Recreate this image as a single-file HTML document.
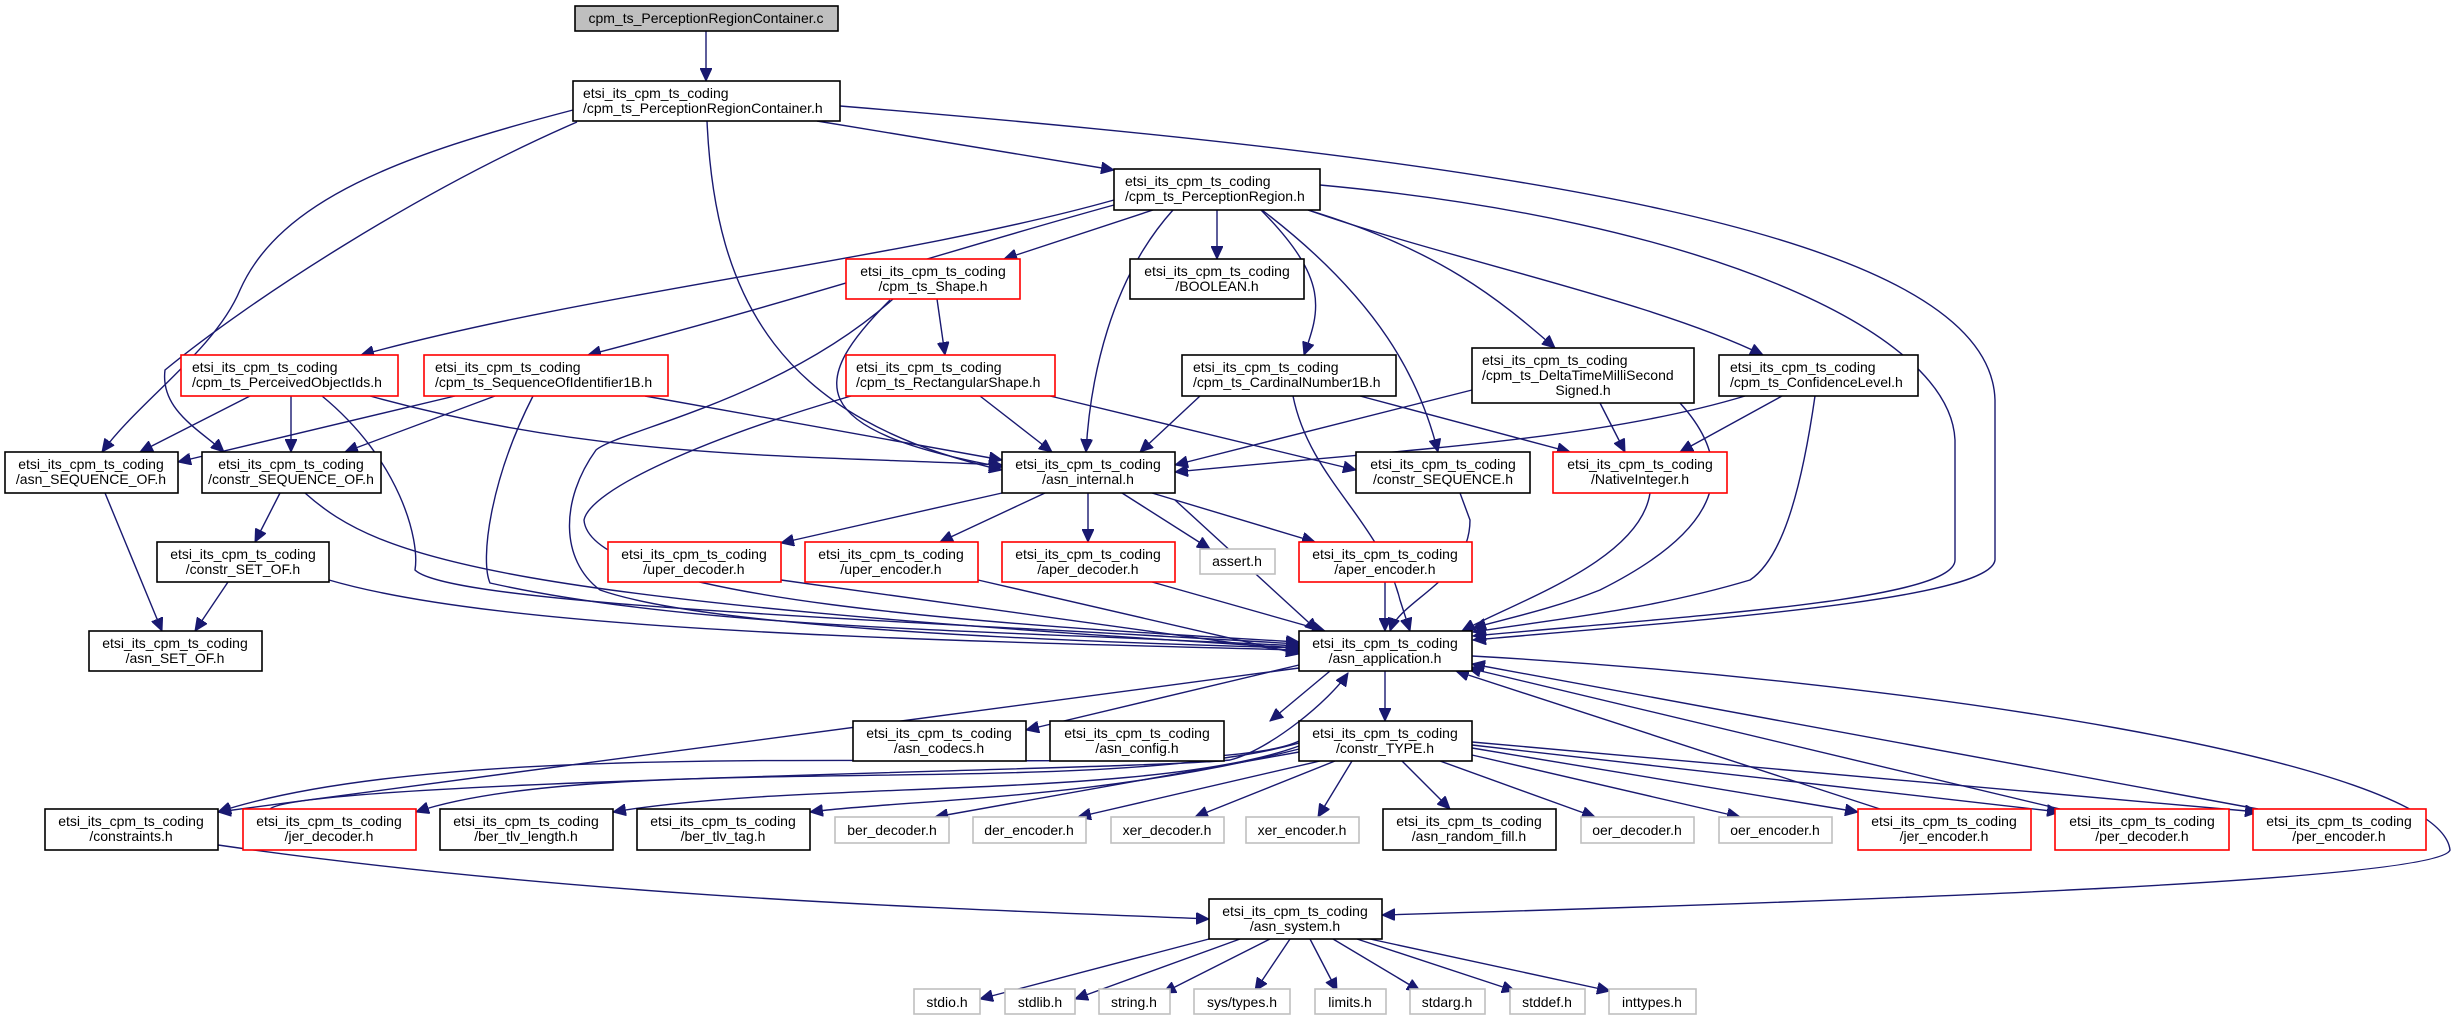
<!DOCTYPE html>
<html><head><meta charset="utf-8"><style>
html,body{margin:0;padding:0;background:#fff;}
svg{display:block;}
text{font-family:"Liberation Sans",sans-serif;font-size:14px;fill:#000;}
.n{fill:#fff;stroke:#000;stroke-width:1.6;}
.r{fill:#fff;stroke:#ff0000;stroke-width:1.6;}
.g{fill:#fff;stroke:#bfbfbf;stroke-width:1.6;}
.e{fill:none;stroke:#191970;stroke-width:1.4;}
.c{text-anchor:middle;}
</style></head><body>
<svg width="2457" height="1020" viewBox="0 0 2457 1020" xmlns="http://www.w3.org/2000/svg">
<defs><marker id="a" markerUnits="userSpaceOnUse" markerWidth="14" markerHeight="12" refX="13" refY="6" orient="auto"><path d="M0,0 L13,6 L0,12 z" fill="#191970" stroke="#191970"/></marker></defs>
<g class="e" marker-end="url(#a)">
<path d="M706,31 L706,81"/>
<!-- PRC.h -->
<path d="M573,110 C400,155 280,200 240,290 C215,350 140,400 102,452"/>
<path d="M577,122 C420,190 250,300 165,370 C160,410 200,430 224,452"/>
<path d="M707,121 C715,300 780,420 1002,470"/>
<path d="M817,121 L1114,170"/>
<path d="M840,106 C1500,160 1990,230 1995,400 L1995,560 C1990,600 1700,620 1473,640"/>
<!-- PerceptionRegion.h -->
<path d="M1320,185 C1700,220 1950,330 1955,440 L1955,560 C1955,600 1700,615 1473,636"/>
<path d="M1114,200 C900,260 600,290 361,355"/>
<path d="M1114,205 C950,250 800,300 588,355"/>
<path d="M1153,210 L1004,259"/>
<path d="M1217,210 L1217,259"/>
<path d="M1173,210 C1110,280 1090,380 1086,452"/>
<path d="M1261,210 C1330,280 1320,310 1304,355"/>
<path d="M1262,210 C1380,300 1420,380 1438,452"/>
<path d="M1308,210 C1440,250 1500,300 1555,348"/>
<path d="M1308,210 C1450,260 1650,300 1763,355"/>
<!-- Shape.h -->
<path d="M937,299 L945,355"/>
<path d="M890,300 C810,380 800,430 1002,467"/>
<path d="M893,299 C780,400 620,430 596,450 C560,500 560,560 600,590 C700,625 1000,640 1299,648"/>
<!-- RectangularShape -->
<path d="M980,396 L1052,452"/>
<path d="M1050,396 L1356,470"/>
<path d="M851,396 C700,440 590,490 584,520 C590,600 1000,625 1299,642"/>
<!-- PerceivedObjectIds -->
<path d="M250,396 L140,452"/>
<path d="M291,396 L291,452"/>
<path d="M370,396 C600,460 800,455 1002,465"/>
<path d="M322,396 C400,460 420,540 415,570 C450,605 900,620 1299,644"/>
<!-- SequenceOfIdentifier1B -->
<path d="M455,396 L178,462"/>
<path d="M495,396 L345,452"/>
<path d="M645,396 L1002,460"/>
<path d="M533,396 C490,480 480,560 490,583 C700,630 1000,630 1299,646"/>
<!-- CardinalNumber1B -->
<path d="M1200,396 L1140,452"/>
<path d="M1360,396 L1570,452"/>
<path d="M1293,396 C1310,480 1380,520 1400,600 L1410,631"/>
<!-- DeltaTime -->
<path d="M1472,390 L1175,465"/>
<path d="M1600,403 L1625,452"/>
<path d="M1680,403 C1750,480 1700,540 1600,590 C1550,610 1500,620 1473,628"/>
<!-- ConfidenceLevel -->
<path d="M1745,396 C1600,440 1400,450 1175,472"/>
<path d="M1782,396 L1680,452"/>
<path d="M1815,396 C1800,500 1780,560 1750,580 C1650,610 1550,620 1473,632"/>
<!-- SEQUENCE_OF -->
<path d="M105,493 L162,631"/>
<path d="M280,493 L255,542"/>
<path d="M305,493 C380,560 500,600 1299,648"/>
<path d="M228,582 L195,631"/>
<path d="M329,580 C500,630 900,640 1299,650"/>
<!-- asn_internal -->
<path d="M1002,493 L781,543"/>
<path d="M1045,493 L940,542"/>
<path d="M1088,493 L1088,542"/>
<path d="M1122,493 L1210,549"/>
<path d="M1152,493 L1315,542"/>
<path d="M1175,500 L1318,631"/>
<path d="M1460,493 L1470,520 C1470,580 1400,600 1390,631"/>
<path d="M1650,493 C1640,560 1520,600 1462,631"/>
<path d="M781,580 L1299,652"/>
<path d="M978,580 L1299,654"/>
<path d="M1152,582 L1325,631"/>
<path d="M1385,582 L1385,631"/>
<!-- asn_application -->
<path d="M1299,665 L1026,730"/>
<path d="M1330,671 L1270,721"/>
<path d="M1385,671 L1385,721"/>
<path d="M1299,668 L218,812"/>
<path d="M1472,656 C1900,680 2440,760 2450,850 C2440,880 1900,900 1382,915"/>
<!-- constr_TYPE -->
<path d="M1299,741 C1200,790 500,720 218,812"/>
<path d="M1299,743 C1100,800 600,750 416,812"/>
<path d="M1299,746 C1150,800 800,780 613,812"/>
<path d="M1299,749 C1100,800 900,800 810,812"/>
<path d="M1299,752 L935,817"/>
<path d="M1320,761 L1078,817"/>
<path d="M1335,761 L1195,817"/>
<path d="M1352,761 L1318,817"/>
<path d="M1402,761 L1450,809"/>
<path d="M1440,761 L1595,817"/>
<path d="M1472,755 L1740,817"/>
<path d="M1472,748 L1858,812"/>
<path d="M1472,745 L2060,812"/>
<path d="M1472,742 L2258,812"/>
<path d="M270,809 C300,780 1150,770 1230,760 C1270,750 1330,700 1348,673"/>
<path d="M1880,809 L1456,671"/>
<path d="M2060,809 L1468,668"/>
<path d="M2258,809 L1472,664"/>
<!-- asn_system -->
<path d="M218,845 C600,900 1000,910 1209,919"/>
<path d="M1209,939 L980,999"/>
<path d="M1240,939 L1075,999"/>
<path d="M1270,939 L1163,993"/>
<path d="M1290,939 L1255,991"/>
<path d="M1310,939 L1337,991"/>
<path d="M1333,939 L1420,991"/>
<path d="M1357,939 L1515,991"/>
<path d="M1370,939 L1610,991"/>
</g>
<!-- nodes -->
<rect x="575" y="6" width="263" height="25" fill="#bfbfbf" stroke="#000" stroke-width="1.6"/><text x="706" y="23" class="c">cpm_ts_PerceptionRegionContainer.c</text>
<rect class="n" x="573" y="81" width="267" height="40"/><text x="583" y="98">etsi_its_cpm_ts_coding</text><text x="583" y="113">/cpm_ts_PerceptionRegionContainer.h</text>
<rect class="n" x="1114" y="169" width="206" height="41"/><text x="1125" y="186">etsi_its_cpm_ts_coding</text><text x="1125" y="201">/cpm_ts_PerceptionRegion.h</text>
<rect class="r" x="846" y="259" width="174" height="40"/><text x="933" y="276" class="c">etsi_its_cpm_ts_coding</text><text x="933" y="291" class="c">/cpm_ts_Shape.h</text>
<rect class="n" x="1130" y="259" width="174" height="40"/><text x="1217" y="276" class="c">etsi_its_cpm_ts_coding</text><text x="1217" y="291" class="c">/BOOLEAN.h</text>
<rect class="r" x="181" y="355" width="217" height="41"/><text x="192" y="372">etsi_its_cpm_ts_coding</text><text x="192" y="387">/cpm_ts_PerceivedObjectIds.h</text>
<rect class="r" x="424" y="355" width="244" height="41"/><text x="435" y="372">etsi_its_cpm_ts_coding</text><text x="435" y="387">/cpm_ts_SequenceOfIdentifier1B.h</text>
<rect class="r" x="846" y="355" width="209" height="41"/><text x="856" y="372">etsi_its_cpm_ts_coding</text><text x="856" y="387">/cpm_ts_RectangularShape.h</text>
<rect class="n" x="1182" y="355" width="214" height="41"/><text x="1193" y="372">etsi_its_cpm_ts_coding</text><text x="1193" y="387">/cpm_ts_CardinalNumber1B.h</text>
<rect class="n" x="1472" y="348" width="222" height="55"/><text x="1482" y="365">etsi_its_cpm_ts_coding</text><text x="1482" y="380">/cpm_ts_DeltaTimeMilliSecond</text><text x="1583" y="395" class="c">Signed.h</text>
<rect class="n" x="1719" y="355" width="199" height="41"/><text x="1730" y="372">etsi_its_cpm_ts_coding</text><text x="1730" y="387">/cpm_ts_ConfidenceLevel.h</text>
<rect class="n" x="5" y="452" width="173" height="41"/><text x="91" y="469" class="c">etsi_its_cpm_ts_coding</text><text x="91" y="484" class="c">/asn_SEQUENCE_OF.h</text>
<rect class="n" x="202" y="452" width="179" height="41"/><text x="291" y="469" class="c">etsi_its_cpm_ts_coding</text><text x="291" y="484" class="c">/constr_SEQUENCE_OF.h</text>
<rect class="n" x="1002" y="452" width="173" height="41"/><text x="1088" y="469" class="c">etsi_its_cpm_ts_coding</text><text x="1088" y="484" class="c">/asn_internal.h</text>
<rect class="n" x="1356" y="452" width="174" height="41"/><text x="1443" y="469" class="c">etsi_its_cpm_ts_coding</text><text x="1443" y="484" class="c">/constr_SEQUENCE.h</text>
<rect class="r" x="1553" y="452" width="174" height="41"/><text x="1640" y="469" class="c">etsi_its_cpm_ts_coding</text><text x="1640" y="484" class="c">/NativeInteger.h</text>
<rect class="n" x="157" y="542" width="172" height="40"/><text x="243" y="559" class="c">etsi_its_cpm_ts_coding</text><text x="243" y="574" class="c">/constr_SET_OF.h</text>
<rect class="n" x="89" y="631" width="173" height="40"/><text x="175" y="648" class="c">etsi_its_cpm_ts_coding</text><text x="175" y="663" class="c">/asn_SET_OF.h</text>
<rect class="r" x="608" y="542" width="173" height="40"/><text x="694" y="559" class="c">etsi_its_cpm_ts_coding</text><text x="694" y="574" class="c">/uper_decoder.h</text>
<rect class="r" x="805" y="542" width="173" height="40"/><text x="891" y="559" class="c">etsi_its_cpm_ts_coding</text><text x="891" y="574" class="c">/uper_encoder.h</text>
<rect class="r" x="1002" y="542" width="173" height="40"/><text x="1088" y="559" class="c">etsi_its_cpm_ts_coding</text><text x="1088" y="574" class="c">/aper_decoder.h</text>
<rect class="g" x="1200" y="549" width="75" height="25"/><text x="1237" y="566" class="c">assert.h</text>
<rect class="r" x="1299" y="542" width="173" height="40"/><text x="1385" y="559" class="c">etsi_its_cpm_ts_coding</text><text x="1385" y="574" class="c">/aper_encoder.h</text>
<rect class="n" x="1299" y="631" width="173" height="40"/><text x="1385" y="648" class="c">etsi_its_cpm_ts_coding</text><text x="1385" y="663" class="c">/asn_application.h</text>
<rect class="n" x="853" y="721" width="173" height="40"/><text x="939" y="738" class="c">etsi_its_cpm_ts_coding</text><text x="939" y="753" class="c">/asn_codecs.h</text>
<rect class="n" x="1050" y="721" width="174" height="40"/><text x="1137" y="738" class="c">etsi_its_cpm_ts_coding</text><text x="1137" y="753" class="c">/asn_config.h</text>
<rect class="n" x="1299" y="721" width="173" height="40"/><text x="1385" y="738" class="c">etsi_its_cpm_ts_coding</text><text x="1385" y="753" class="c">/constr_TYPE.h</text>
<rect class="n" x="45" y="809" width="173" height="41"/><text x="131" y="826" class="c">etsi_its_cpm_ts_coding</text><text x="131" y="841" class="c">/constraints.h</text>
<rect class="r" x="243" y="809" width="173" height="41"/><text x="329" y="826" class="c">etsi_its_cpm_ts_coding</text><text x="329" y="841" class="c">/jer_decoder.h</text>
<rect class="n" x="440" y="809" width="173" height="41"/><text x="526" y="826" class="c">etsi_its_cpm_ts_coding</text><text x="526" y="841" class="c">/ber_tlv_length.h</text>
<rect class="n" x="637" y="809" width="173" height="41"/><text x="723" y="826" class="c">etsi_its_cpm_ts_coding</text><text x="723" y="841" class="c">/ber_tlv_tag.h</text>
<rect class="g" x="835" y="817" width="114" height="26"/><text x="892" y="835" class="c">ber_decoder.h</text>
<rect class="g" x="973" y="817" width="113" height="26"/><text x="1029" y="835" class="c">der_encoder.h</text>
<rect class="g" x="1111" y="817" width="113" height="26"/><text x="1167" y="835" class="c">xer_decoder.h</text>
<rect class="g" x="1246" y="817" width="113" height="26"/><text x="1302" y="835" class="c">xer_encoder.h</text>
<rect class="n" x="1383" y="809" width="173" height="41"/><text x="1469" y="826" class="c">etsi_its_cpm_ts_coding</text><text x="1469" y="841" class="c">/asn_random_fill.h</text>
<rect class="g" x="1581" y="817" width="113" height="26"/><text x="1637" y="835" class="c">oer_decoder.h</text>
<rect class="g" x="1719" y="817" width="113" height="26"/><text x="1775" y="835" class="c">oer_encoder.h</text>
<rect class="r" x="1858" y="809" width="173" height="41"/><text x="1944" y="826" class="c">etsi_its_cpm_ts_coding</text><text x="1944" y="841" class="c">/jer_encoder.h</text>
<rect class="r" x="2055" y="809" width="174" height="41"/><text x="2142" y="826" class="c">etsi_its_cpm_ts_coding</text><text x="2142" y="841" class="c">/per_decoder.h</text>
<rect class="r" x="2253" y="809" width="173" height="41"/><text x="2339" y="826" class="c">etsi_its_cpm_ts_coding</text><text x="2339" y="841" class="c">/per_encoder.h</text>
<rect class="n" x="1209" y="899" width="173" height="40"/><text x="1295" y="916" class="c">etsi_its_cpm_ts_coding</text><text x="1295" y="931" class="c">/asn_system.h</text>
<rect class="g" x="914" y="989" width="66" height="25"/><text x="947" y="1007" class="c">stdio.h</text>
<rect class="g" x="1005" y="989" width="70" height="25"/><text x="1040" y="1007" class="c">stdlib.h</text>
<rect class="g" x="1099" y="989" width="71" height="25"/><text x="1134" y="1007" class="c">string.h</text>
<rect class="g" x="1194" y="989" width="96" height="25"/><text x="1242" y="1007" class="c">sys/types.h</text>
<rect class="g" x="1315" y="989" width="71" height="25"/><text x="1350" y="1007" class="c">limits.h</text>
<rect class="g" x="1410" y="989" width="75" height="25"/><text x="1447" y="1007" class="c">stdarg.h</text>
<rect class="g" x="1510" y="989" width="75" height="25"/><text x="1547" y="1007" class="c">stddef.h</text>
<rect class="g" x="1609" y="989" width="87" height="25"/><text x="1652" y="1007" class="c">inttypes.h</text>
</svg>
</body></html>
